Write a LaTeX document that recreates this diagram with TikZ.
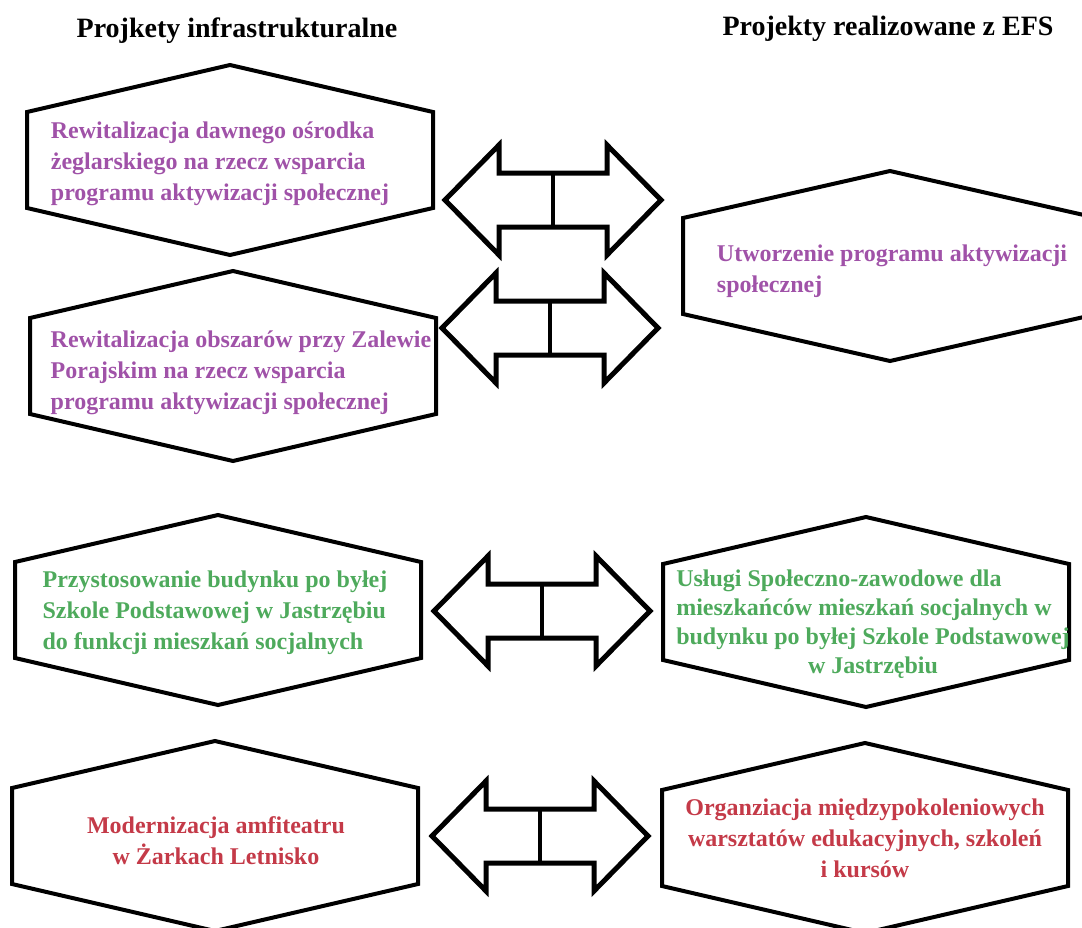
\documentclass[tikz,border=0pt]{standalone}
\usepackage{fontspec}
\setmainfont{Liberation Serif}
\usepackage{tikz}
\usetikzlibrary{calc}
\definecolor{projviolet}{RGB}{160,82,168}
\definecolor{projgreen}{RGB}{78,170,92}
\definecolor{projred}{RGB}{196,58,72}

\begin{document}
\begin{tikzpicture}[
  x=0.75pt, y=-0.75pt,
  font=\fontsize{18}{23.25}\selectfont\bfseries,
  hexline/.style={draw=black, line width=3pt},
  boxtxt/.style={inner sep=0pt},
  head/.style={font=\fontsize{21}{25}\selectfont\bfseries, anchor=base},
  arrowline/.style={draw=black, line width=3.75pt, fill=white},
  divider/.style={line width=3pt}
]
  \clip (0,0) rectangle (1082,928);

  % column headers
  \node[head] (hinf) at (237,37) {Projkety infrastrukturalne};
  \node[head] (hefs) at (888,35) {Projekty realizowane z EFS};

  % hexagon frames
  \draw[hexline, shift={(230,160)}] (-203,-48) -- (0,-95) -- (203,-48) -- (203,48) -- (0,95) -- (-203,48) -- cycle;
  \draw[hexline, shift={(233,366)}] (-203,-48) -- (0,-95) -- (203,-48) -- (203,48) -- (0,95) -- (-203,48) -- cycle;
  \draw[hexline, shift={(218,610)}] (-203,-48) -- (0,-95) -- (203,-48) -- (203,48) -- (0,95) -- (-203,48) -- cycle;
  \draw[hexline, shift={(215,836)}] (-203,-48) -- (0,-95) -- (203,-48) -- (203,48) -- (0,95) -- (-203,48) -- cycle;
  \draw[hexline, shift={(890,266)}] (-207,-48) -- (0,-95) -- (207,-48) -- (207,48) -- (0,95) -- (-207,48) -- cycle;
  \draw[hexline, shift={(866,612)}] (-203,-48) -- (0,-95) -- (203,-48) -- (203,48) -- (0,95) -- (-203,48) -- cycle;
  \draw[hexline, shift={(865,838)}] (-203,-48) -- (0,-95) -- (203,-48) -- (203,48) -- (0,95) -- (-203,48) -- cycle;

  % infrastructure projects
  \node[boxtxt, align=left, text=projviolet] (inf1) at (220,164) {
    Rewitalizacja dawnego ośrodka\\żeglarskiego na rzecz wsparcia\\programu aktywizacji społecznej};
  \node[boxtxt, align=left, text=projviolet] (inf2) at (241,373) {
    Rewitalizacja obszarów przy Zalewie\\Porajskim na rzecz wsparcia\\programu aktywizacji społecznej};
  \node[boxtxt, align=left, text=projgreen] (inf3) at (215,613) {
    Przystosowanie budynku po byłej\\Szkole Podstawowej w Jastrzębiu\\do funkcji mieszkań socjalnych};
  \node[boxtxt, align=center, text=projred] (inf4) at (216,841) {
    Modernizacja amfiteatru\\w Żarkach Letnisko};

  % EFS projects
  \node[boxtxt, align=left, text=projviolet] (efs1) at (892,271) {
    Utworzenie programu aktywizacji\\społecznej};
  \node[boxtxt, text=projgreen, font=\fontsize{18}{21.75}\selectfont\bfseries] (efs3) at (873,624) {%
    \begin{tabular}{@{}l@{}}
      Usługi Społeczno-zawodowe dla\\
      mieszkańców mieszkań socjalnych w\\
      budynku po byłej Szkole Podstawowej\\
      \multicolumn{1}{@{}c@{}}{w Jastrzębiu}
    \end{tabular}};
  \node[boxtxt, align=center, text=projred] (efs4) at (865,838) {
    Organziacja międzypokoleniowych\\warsztatów edukacyjnych, szkoleń\\i kursów};

  % double arrows between the columns
  \coordinate (a1) at (553,200);
  \coordinate (a2) at (550,328);
  \coordinate (a3) at (542,611);
  \coordinate (a4) at (540,836);

  \draw[arrowline, shift={(a1)}] (-108,0) -- (-54,-55) -- (-54,-27) -- (54,-27) -- (54,-55) -- (108,0) -- (54,55) -- (54,27) -- (-54,27) -- (-54,55) -- cycle;
  \draw[arrowline, shift={(a2)}] (-108,0) -- (-54,-55) -- (-54,-27) -- (54,-27) -- (54,-55) -- (108,0) -- (54,55) -- (54,27) -- (-54,27) -- (-54,55) -- cycle;
  \draw[arrowline, shift={(a3)}] (-108,0) -- (-54,-55) -- (-54,-27) -- (54,-27) -- (54,-55) -- (108,0) -- (54,55) -- (54,27) -- (-54,27) -- (-54,55) -- cycle;
  \draw[arrowline, shift={(a4)}] (-108,0) -- (-54,-55) -- (-54,-27) -- (54,-27) -- (54,-55) -- (108,0) -- (54,55) -- (54,27) -- (-54,27) -- (-54,55) -- cycle;

  \draw[divider] ($(a1)+(0,-27)$) -- ($(a1)+(0,27)$);
  \draw[divider] ($(a2)+(0,-27)$) -- ($(a2)+(0,27)$);
  \draw[divider] ($(a3)+(0,-27)$) -- ($(a3)+(0,27)$);
  \draw[divider] ($(a4)+(0,-27)$) -- ($(a4)+(0,27)$);
\end{tikzpicture}
\end{document}
